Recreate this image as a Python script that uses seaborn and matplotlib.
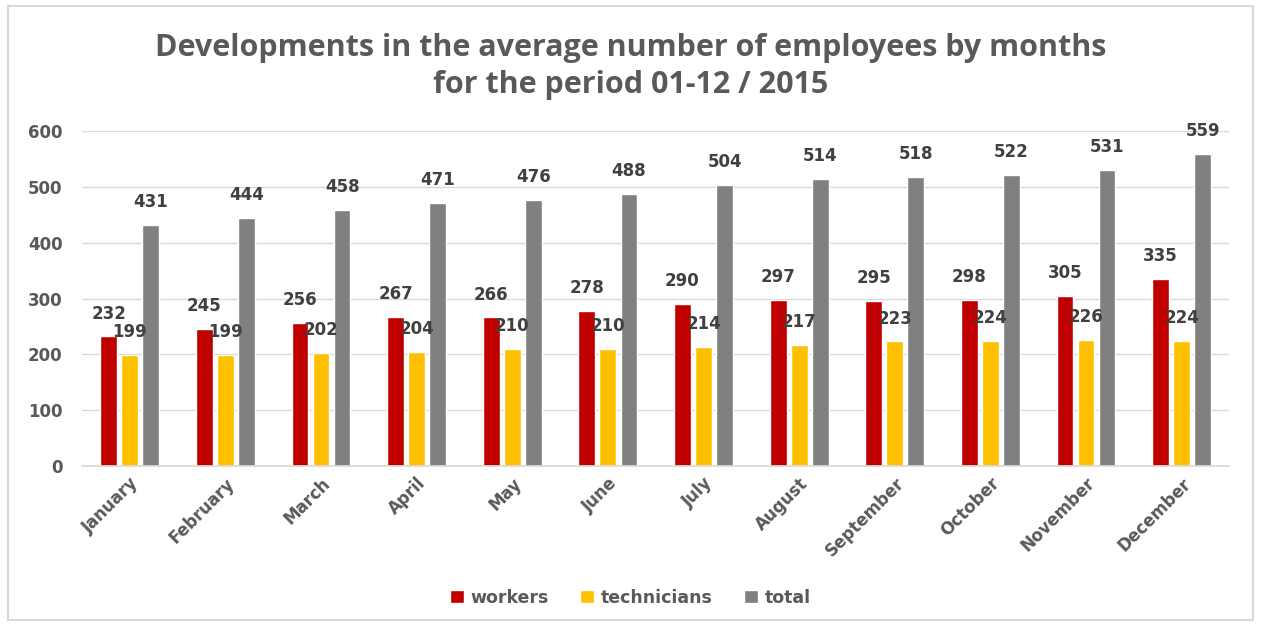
import matplotlib
matplotlib.use("Agg")
import matplotlib.pyplot as plt
import seaborn as sns
import pandas as pd
from matplotlib.patches import Rectangle
from matplotlib import font_manager

months = ["January", "February", "March", "April", "May", "June", "July",
          "August", "September", "October", "November", "December"]
workers = [232, 245, 256, 267, 266, 278, 290, 297, 295, 298, 305, 335]
technicians = [199, 199, 202, 204, 210, 210, 214, 217, 223, 224, 226, 224]
total = [431, 444, 458, 471, 476, 488, 504, 514, 518, 522, 531, 559]
series_names = ["workers", "technicians", "total"]
colors = ["#C00000", "#FFC000", "#808080"]

df = pd.DataFrame({
    "month": months * 3,
    "value": workers + technicians + total,
    "series": [series_names[0]] * 12 + [series_names[1]] * 12 + [series_names[2]] * 12,
})

sns.set_theme(style="white")
plt.rcParams["font.family"] = ["DejaVu Sans"]

installed = {f.name for f in font_manager.fontManager.ttflist}
title_family = "Liberation Sans Narrow" if "Liberation Sans Narrow" in installed else "Open Sans"
title_size = 21 if title_family == "Liberation Sans Narrow" else 22

fig = plt.figure(figsize=(12.61, 6.26), dpi=100)
ax = fig.add_axes([0.065, 0.2556, 0.910, 0.5351])

sns.barplot(data=df, x="month", y="value", hue="series", order=months,
            hue_order=series_names, palette=colors, width=0.66, gap=0.2,
            saturation=1, ax=ax, legend=True)

for cont in ax.containers:
    ax.bar_label(cont, padding=10, fontsize=12, fontweight="bold", color="#404040")

ax.set_ylim(0, 600)
ax.set_yticks(range(0, 601, 100))
ax.yaxis.grid(True, color="#D9D9D9", linewidth=1)
ax.set_axisbelow(True)
for s in ["top", "right", "left"]:
    ax.spines[s].set_visible(False)
ax.spines["bottom"].set_color("#D9D9D9")
ax.set_xlabel("")
ax.set_ylabel("")
ax.tick_params(axis="y", labelsize=12, labelcolor="#595959", length=0, pad=14)
ax.tick_params(axis="x", labelsize=12, labelcolor="#595959", length=0, pad=6)
for lbl in ax.get_yticklabels():
    lbl.set_fontweight("bold")
for lbl in ax.get_xticklabels():
    lbl.set_rotation(45)
    lbl.set_ha("right")
    lbl.set_rotation_mode("anchor")
    lbl.set_fontweight("bold")

leg = ax.legend(loc="center", bbox_to_anchor=(0.5, 0.045), bbox_transform=fig.transFigure,
                ncol=3, frameon=False, handlelength=0.8, handleheight=0.8,
                handletextpad=0.4, columnspacing=1.8,
                prop={"size": 12.5, "weight": "bold"})
for t in leg.get_texts():
    t.set_color("#595959")

fig.text(0.5, 0.894, "Developments in the average number of employees by months\nfor the period 01-12 / 2015",
         ha="center", va="center", fontsize=title_size, fontweight="bold", color="#595959",
         linespacing=1.33, family=[title_family, "DejaVu Sans"])

fig.patches.append(Rectangle((0.006, 0.01), 0.988, 0.98, transform=fig.transFigure,
                             fill=False, edgecolor="#D9D9D9", linewidth=1.5))

fig.savefig("out.png", dpi=100)
